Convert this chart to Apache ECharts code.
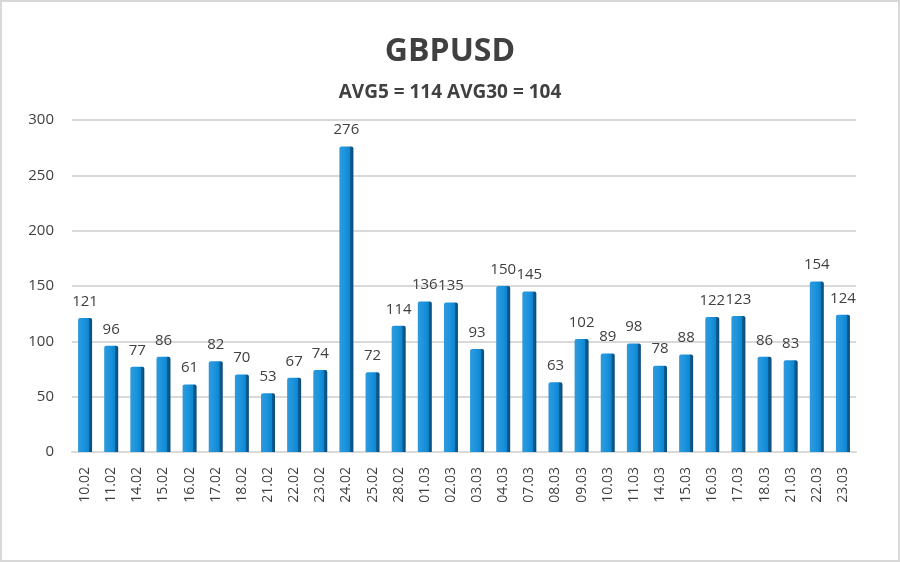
<!DOCTYPE html>
<html><head><meta charset="utf-8">
<script src="https://cdn.jsdelivr.net/npm/echarts@6/dist/echarts.min.js"></script>
<style>html,body{margin:0;padding:0;background:#fff}#c{width:900px;height:562px;box-sizing:border-box;border:2px solid #d8d8d8}</style>
</head><body><div id="c"></div>
<script>
var categories = ['10.02','11.02','14.02','15.02','16.02','17.02','18.02','21.02','22.02','23.02','24.02','25.02','28.02','01.03','02.03','03.03','04.03','07.03','08.03','09.03','10.03','11.03','14.03','15.03','16.03','17.03','18.03','21.03','22.03','23.03'];
var values = [121,96,77,86,61,82,70,53,67,74,276,72,114,136,135,93,150,145,63,102,89,98,78,88,122,123,86,83,154,124];
var yTicks = [0,50,100,150,200,250,300];
var titleText = 'GBPUSD';
var subtitleText = 'AVG5 = 114 AVG30 = 104';

var chart = echarts.init(document.getElementById('c'));
chart.setOption({
  backgroundColor: '#fff',
  animation: false,
  title: [
    {text: titleText, left: 'center', top: 29, textStyle: {fontFamily: 'Open Sans', fontSize: 32, fontWeight: 'bold', color: '#404040'}},
    {text: subtitleText, left: 'center', top: 76, textStyle: {fontFamily: 'Open Sans', fontSize: 19, fontWeight: 'bold', color: '#404040'}}
  ],
  grid: {left: 70, right: 42, top: 118, bottom: 108},
  xAxis: {
    type: 'category', data: categories,
    axisLine: {show: true, lineStyle: {color: '#d9d9d9', width: 2}},
    axisTick: {show: false},
    axisLabel: {rotate: 90, fontFamily: 'Open Sans', fontSize: 14, color: '#404040', margin: 15}
  },
  yAxis: {
    type: 'value', min: yTicks[0], max: yTicks[yTicks.length-1], interval: 50,
    axisLine: {show: false}, axisTick: {show: false},
    splitLine: {lineStyle: {color: '#d9d9d9', width: 2}},
    axisLabel: {fontFamily: 'Open Sans', fontSize: 15, color: '#404040', margin: 18}
  },
  series: [{
    type: 'bar', data: values, barWidth: 14,
    itemStyle: {
      color: {type: 'linear', x: 0, y: 0, x2: 1, y2: 0, colorStops: [
        {offset: 0, color: '#2f9ade'}, {offset: 0.45, color: '#1a93dc'},
        {offset: 0.76, color: '#0e86cf'}, {offset: 0.78, color: '#0d5f96'}, {offset: 1, color: '#0b4a78'}]},
      borderRadius: [2, 2, 0, 0]
    },
    label: {show: true, position: 'top', distance: 9, fontFamily: 'Open Sans', fontSize: 15, color: '#404040'}
  }]
});
</script></body></html>
